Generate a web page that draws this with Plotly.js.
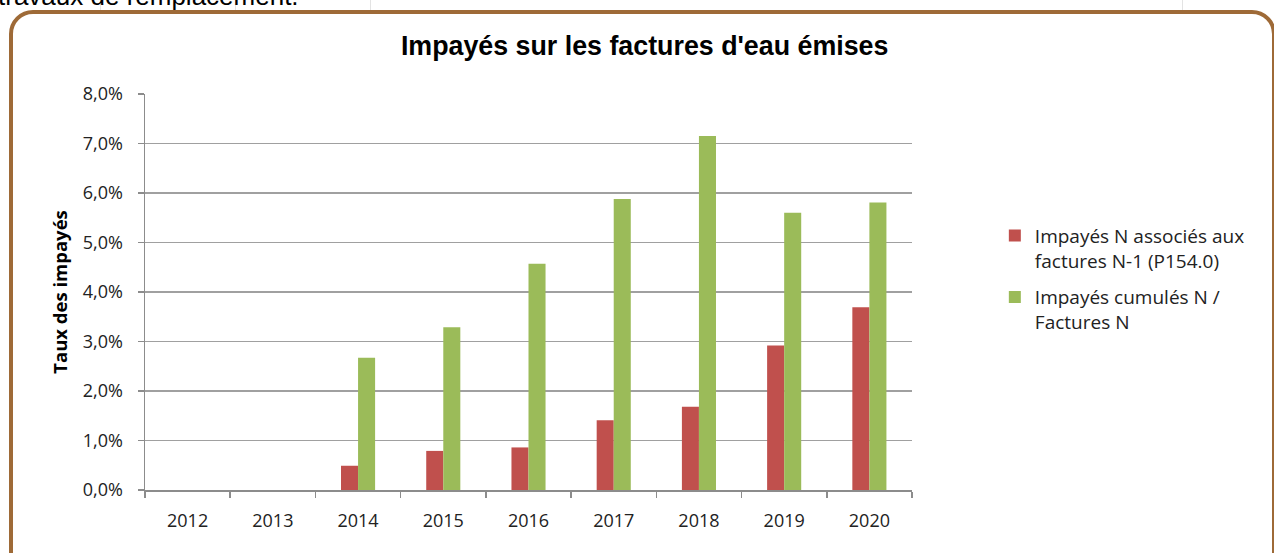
<!DOCTYPE html>
<html>
<head>
<meta charset="utf-8">
<script src="https://cdn.plot.ly/plotly-3.0.1.min.js"></script>
<style>
  html, body { margin:0; padding:0; background:#fff; width:1274px; height:553px; overflow:hidden; position:relative; }
  #chart { position:absolute; left:0; top:0; width:1274px; height:553px; }
  #frame { position:absolute; left:9px; top:10px; width:1259px; height:560px; border:4px solid #9E6A37; border-radius:24px; pointer-events:none; }
  #cut { position:absolute; left:-2px; top:-17px; line-height:27px; font-family:"Liberation Sans", Arial, sans-serif; font-size:26px; color:#000; white-space:nowrap; }
  .col { position:absolute; top:0; width:1px; height:11px; background:#e3e3e3; }
</style>
</head>
<body>
<div class="col" style="left:100px"></div>
<div class="col" style="left:235px"></div>
<div class="col" style="left:370px"></div>
<div class="col" style="left:1182px"></div>
<div id="cut">travaux de remplacement.</div>
<div id="chart"></div>
<div id="frame"></div>
<script>
const years = ["2012","2013","2014","2015","2016","2017","2018","2019","2020"];
const impayesN = [null, null, 0.0049, 0.0079, 0.0086, 0.0141, 0.0168, 0.0292, 0.0369];
const impayesCumules = [null, null, 0.0267, 0.0329, 0.0457, 0.0588, 0.0715, 0.0560, 0.0581];
const seriesNames = ["Impayés N associés aux<br>factures N-1 (P154.0)", "Impayés cumulés N /<br>Factures N"];
const colors = ["#C0504D", "#9BBB59"];

const traces = [
  { type:"bar", x:years, y:impayesN, name:seriesNames[0], legendgroup:"g1", marker:{color:colors[0]}, hoverinfo:"x+y" },
  { type:"bar", x:years, y:impayesCumules, name:seriesNames[1], legendgroup:"g2", marker:{color:colors[1]}, hoverinfo:"x+y" }
];

const fam = "'Open Sans', Lato, sans-serif";
const tickFont = {family:fam, size:18, color:"#222"};

const layout = {
  width:1274, height:553,
  margin:{l:145, r:362, t:93.5, b:62.5, pad:0},
  paper_bgcolor:"rgba(0,0,0,0)", plot_bgcolor:"rgba(0,0,0,0)",
  separators:", ",
  title:{text:"<b>Impayés sur les factures d'eau émises</b>", x:0.506, xanchor:"center", y:0.918, yanchor:"middle",
         font:{family:"'Liberation Sans', Arial, sans-serif", size:26.8, color:"#000"}},
  barmode:"group", bargap:0.6, bargroupgap:0,
  showlegend:true,
  legend:{x:1.108, xanchor:"left", y:0.69, yanchor:"top", valign:"top", font:{family:fam, size:19, color:"#222"},
          bgcolor:"rgba(0,0,0,0)", tracegroupgap:9, itemwidth:20, traceorder:"grouped"},
  xaxis:{type:"category", showgrid:false, showline:true, linecolor:"#8C8C8C", linewidth:1.5,
         ticks:"outside", tickson:"boundaries", ticklen:6, tickcolor:"#8C8C8C", tickwidth:1.5,
         tickfont:tickFont, ticklabelstandoff:14, fixedrange:true},
  yaxis:{range:[0,0.08], dtick:0.01, tickformat:".1%", showgrid:true, gridcolor:"#A0A0A0", gridwidth:1.5,
         showline:true, linecolor:"#8C8C8C", linewidth:1.5, ticks:"outside", ticklen:6, tickcolor:"#8C8C8C", tickwidth:1.5,
         tickfont:tickFont, ticklabelstandoff:11, zeroline:false, fixedrange:true,
         title:{text:"<b>Taux des impayés</b>", standoff:10, font:{family:fam, size:18.5, color:"#000"}}}
};

Plotly.newPlot("chart", traces, layout, {displayModeBar:false, staticPlot:true});
</script>
</body>
</html>
